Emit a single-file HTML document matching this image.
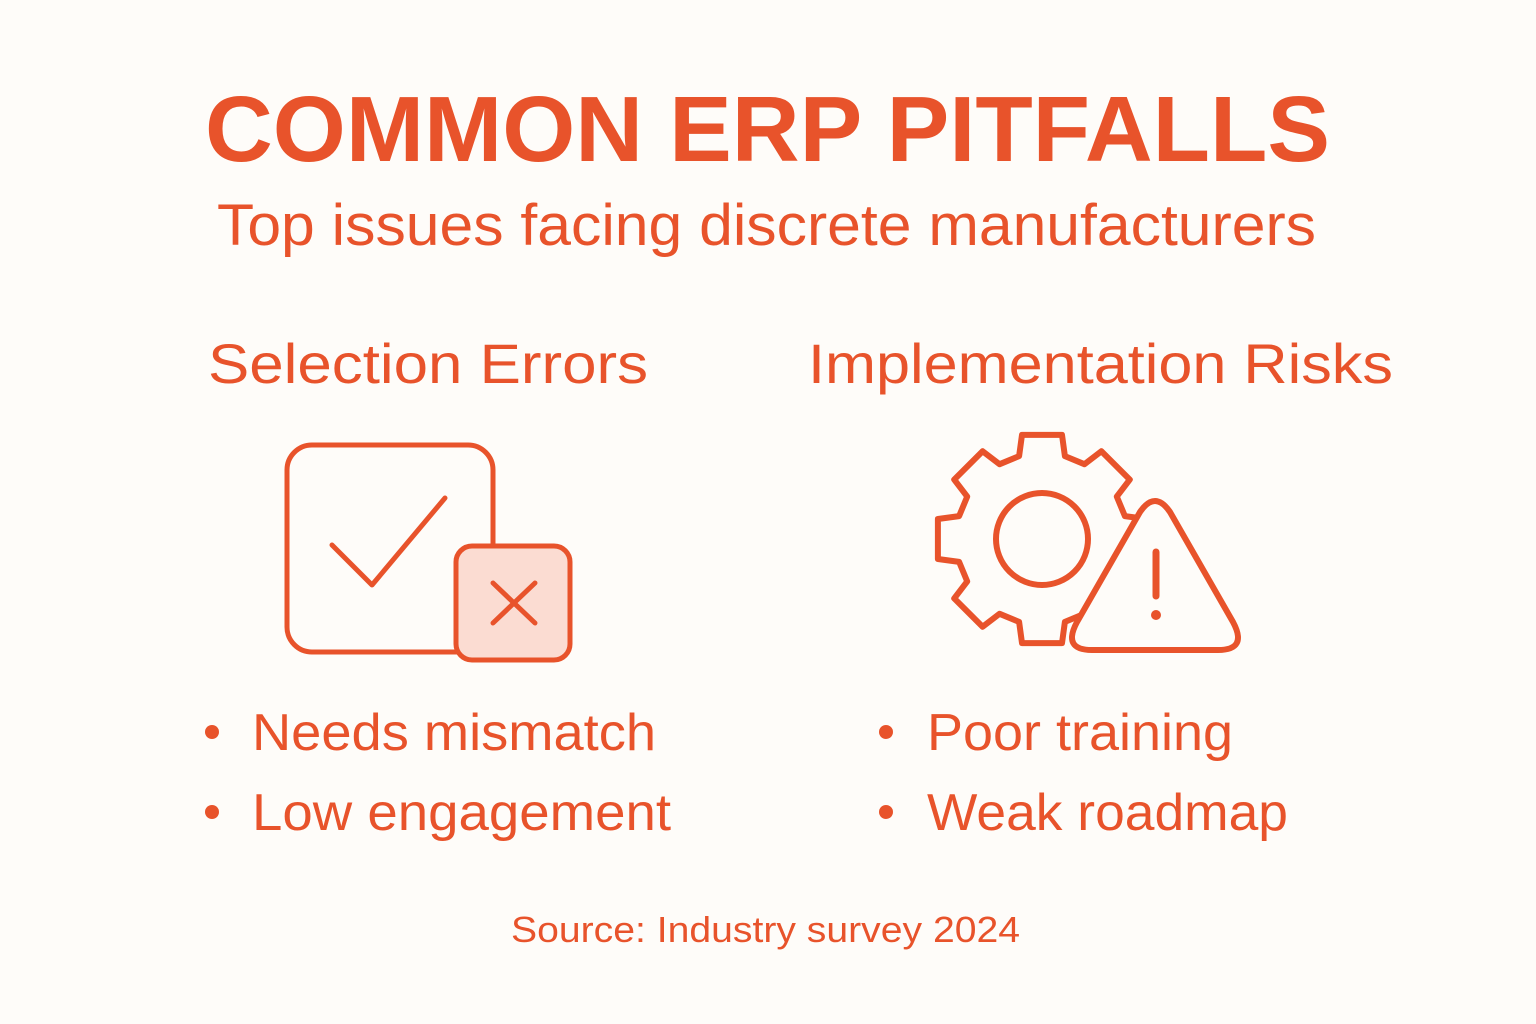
<!DOCTYPE html>
<html><head><meta charset="utf-8"><style>
html,body{margin:0;padding:0;background:#FEFCF9;}
svg{display:block}
text{font-family:"Liberation Sans",sans-serif;fill:#E8532B}
</style></head><body>
<svg width="1536" height="1024" viewBox="0 0 1536 1024">
<rect width="1536" height="1024" fill="#FEFCF9"/>
<text x="205" y="161" font-size="93" font-weight="bold" textLength="1125" lengthAdjust="spacingAndGlyphs">COMMON ERP PITFALLS</text>
<text x="217" y="245" font-size="58" textLength="1099" lengthAdjust="spacingAndGlyphs">Top issues facing discrete manufacturers</text>
<text x="208" y="383" font-size="56" textLength="440" lengthAdjust="spacingAndGlyphs">Selection Errors</text>
<text x="808" y="383" font-size="56" textLength="585" lengthAdjust="spacingAndGlyphs">Implementation Risks</text>
<circle cx="212" cy="732" r="7" fill="#E8532B"/>
<circle cx="212" cy="812" r="7" fill="#E8532B"/>
<circle cx="886" cy="732" r="7" fill="#E8532B"/>
<circle cx="886" cy="812" r="7" fill="#E8532B"/>
<text x="252" y="750" font-size="52" textLength="404" lengthAdjust="spacingAndGlyphs">Needs mismatch</text>
<text x="252" y="830" font-size="52" textLength="419" lengthAdjust="spacingAndGlyphs">Low engagement</text>
<text x="927" y="750" font-size="52" textLength="306" lengthAdjust="spacingAndGlyphs">Poor training</text>
<text x="927" y="830" font-size="52" textLength="361" lengthAdjust="spacingAndGlyphs">Weak roadmap</text>
<text x="511" y="942" font-size="36" textLength="509" lengthAdjust="spacingAndGlyphs">Source: Industry survey 2024</text>
<g fill="none" stroke="#E8532B" stroke-width="5" stroke-linecap="round" stroke-linejoin="round">
<rect x="287" y="445" width="206" height="207" rx="25" fill="#FEFCF9"/>
<polyline points="332,545 372,585 445,498"/>
<rect x="456" y="546" width="114" height="114" rx="16" fill="#FBDCD2"/>
<line x1="493" y1="583" x2="535" y2="623"/><line x1="535" y1="583" x2="493" y2="623"/>
<path id="gear" stroke-width="6"/>
<circle cx="1042" cy="539" r="46" stroke-width="6"/>
<path d="M1140,512 Q1155,490 1170,512 L1233,622 Q1248,650 1218,650 L1092,650 Q1062,650 1077,622 Z" fill="#FEFCF9" stroke-width="6"/>
<line x1="1156" y1="552" x2="1156" y2="596" stroke-width="7"/>
</g>
<circle cx="1156" cy="615" r="5" fill="#E8532B"/>
</svg>
<script>
(function(){
var cx=1042,cy=539,R=106,r=86,n=8,pts=[];
for(var i=0;i<n;i++){
 var a=-Math.PI/2+i*2*Math.PI/n;
 var hw=0.19, hb=0.27;
 pts.push([a-hb,r],[a-hw,R],[a+hw,R],[a+hb,r]);
}
var d="";
pts.forEach(function(p,k){var x=cx+p[1]*Math.cos(p[0]),y=cy+p[1]*Math.sin(p[0]);d+=(k?"L":"M")+x.toFixed(1)+","+y.toFixed(1);});
document.getElementById("gear").setAttribute("d",d+"Z");
})();
</script>
</body></html>
